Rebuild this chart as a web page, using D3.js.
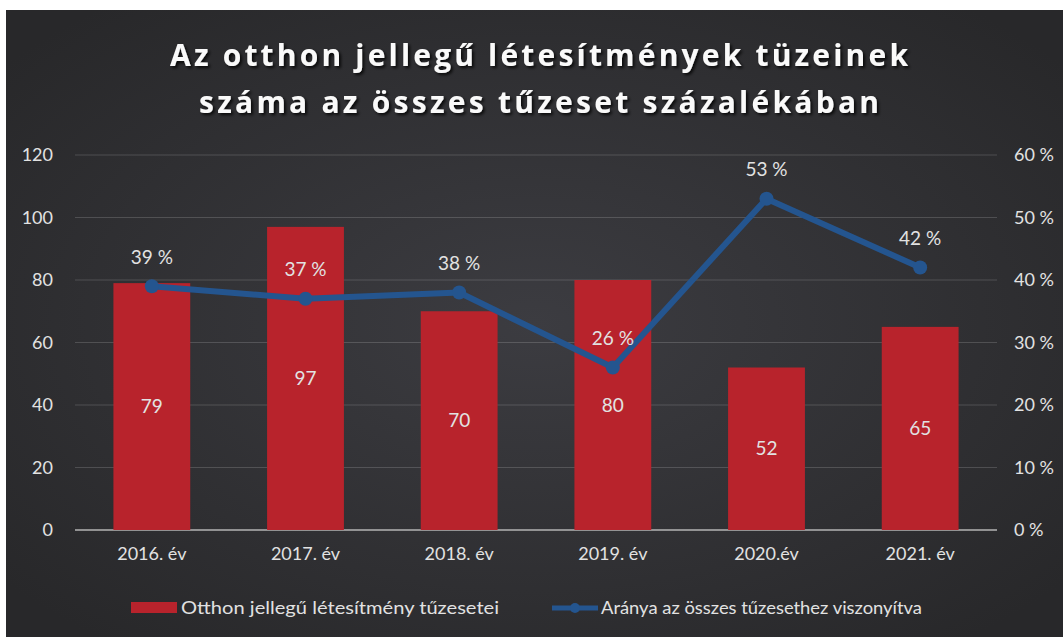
<!DOCTYPE html>
<html>
<head>
<meta charset="utf-8">
<script src="https://cdn.jsdelivr.net/npm/d3@7/dist/d3.min.js"></script>
<style>
  html, body { margin: 0; padding: 0; background: #fff; }
  svg { display: block; }
</style>
</head>
<body>
<div id="chart"></div>
<script>
// Otthon jellegű létesítmények tüzei – oszlop + arány vonal (két tengely)
const years = ["2016. év", "2017. év", "2018. év", "2019. év", "2020.év", "2021. év"];
const fires = [79, 97, 70, 80, 52, 65];
const share = [39, 37, 38, 26, 53, 42];
const leftTicks = [0, 20, 40, 60, 80, 100, 120];
const rightTicks = [0, 10, 20, 30, 40, 50, 60];
const titleLines = ["Az otthon jellegű létesítmények tüzeinek", "száma az összes tűzeset százalékában"];
const legendLabels = ["Otthon jellegű létesítmény tűzesetei", "Aránya az összes tűzesethez viszonyítva"];

(() => {
  const W = 1063, H = 637;
  const ML = 75, MR = 997, TOP = 155, BOT = 530;
  const FONT = "Lato, 'Open Sans', 'DejaVu Sans', sans-serif";
  const TFONT = "'Open Sans', 'DejaVu Sans', sans-serif";
  const RED = "#b8232c", BLUE = "#24558f", TXT = "#e2e2e2";

  const svg = d3.select("#chart").append("svg")
    .attr("width", W).attr("height", H).attr("viewBox", `0 0 ${W} ${H}`);

  const defs = svg.append("defs");
  const rg = defs.append("radialGradient").attr("id", "bg")
    .attr("cx", "50%").attr("cy", "50%").attr("r", "65%");
  rg.append("stop").attr("offset", "0%").attr("stop-color", "#3c3c41");
  rg.append("stop").attr("offset", "100%").attr("stop-color", "#28282a");
  const sh = defs.append("filter").attr("id", "shadow")
    .attr("x", "-5%").attr("y", "-20%").attr("width", "110%").attr("height", "140%");
  sh.append("feDropShadow").attr("dx", 2).attr("dy", 2).attr("stdDeviation", 1.5)
    .attr("flood-color", "#000").attr("flood-opacity", 0.8);

  // háttér (bal/felső fehér sáv a szkennelt képhez)
  svg.append("rect").attr("x", 6).attr("y", 10).attr("width", W - 6).attr("height", H - 10)
    .attr("fill", "url(#bg)");

  // cím
  const tW = [738, 680];
  titleLines.forEach((t, i) => {
    svg.append("text").attr("x", 539).attr("y", 66 + i * 47)
      .attr("text-anchor", "middle")
      .attr("textLength", tW[i]).attr("lengthAdjust", "spacing")
      .attr("filter", "url(#shadow)")
      .attr("style", `font:700 30px ${TFONT};fill:#fafafa`)
      .text(t);
  });

  const x = d3.scaleBand().domain(years).range([ML, MR]).paddingInner(0.5).paddingOuter(0.25);
  const y = d3.scaleLinear().domain([0, 120]).range([BOT, TOP]);
  const y2 = d3.scaleLinear().domain([0, 60]).range([BOT, TOP]);

  // rács
  leftTicks.forEach(v => {
    svg.append("line").attr("x1", ML).attr("x2", MR).attr("y1", y(v)).attr("y2", y(v))
      .attr("stroke", v === 0 ? "#b5b5b5" : "rgba(255,255,255,0.16)")
      .attr("stroke-width", v === 0 ? 1.5 : 1);
  });

  // tengelyek feliratai
  const yAxis = d3.axisLeft(y).tickValues(leftTicks).tickSize(0).tickPadding(0);
  const gl = svg.append("g").attr("transform", "translate(53,0)").call(yAxis);
  const yAxis2 = d3.axisRight(y2).tickValues(rightTicks).tickSize(0).tickPadding(0)
    .tickFormat(d => d + " %");
  const gr = svg.append("g").attr("transform", "translate(1014,0)").call(yAxis2);
  const xAxis = d3.axisBottom(x).tickSize(0).tickPadding(0);
  const gx = svg.append("g").attr("transform", "translate(0,547)").call(xAxis);
  [gl, gr, gx].forEach(g => {
    g.select(".domain").remove();
    g.selectAll("text").attr("style", `font:400 18px ${FONT};fill:${TXT}`);
  });
  gx.selectAll("text").attr("dy", "0.72em");

  // oszlopok
  svg.append("g").selectAll("rect").data(fires).join("rect")
    .attr("x", (d, i) => x(years[i])).attr("width", x.bandwidth())
    .attr("y", d => y(d)).attr("height", d => BOT - y(d))
    .attr("fill", RED);
  svg.append("g").selectAll("text").data(fires).join("text")
    .attr("x", (d, i) => x(years[i]) + x.bandwidth() / 2)
    .attr("y", d => (y(d) + BOT) / 2).attr("dy", "0.35em")
    .attr("text-anchor", "middle")
    .attr("style", `font:400 19px ${FONT};fill:${TXT}`)
    .text(d => d);

  // arány vonal
  const cx = i => x(years[i]) + x.bandwidth() / 2;
  const line = d3.line().x((d, i) => cx(i)).y(d => y2(d));
  svg.append("path").attr("d", line(share)).attr("fill", "none")
    .attr("stroke", BLUE).attr("stroke-width", 6).attr("stroke-linejoin", "round");
  svg.append("g").selectAll("circle").data(share).join("circle")
    .attr("cx", (d, i) => cx(i)).attr("cy", d => y2(d)).attr("r", 7)
    .attr("fill", BLUE);
  svg.append("g").selectAll("text").data(share).join("text")
    .attr("x", (d, i) => cx(i)).attr("y", d => y2(d) - 29).attr("dy", "0.35em")
    .attr("text-anchor", "middle")
    .attr("style", `font:400 19px ${FONT};fill:${TXT}`)
    .text(d => d + " %");

  // jelmagyarázat
  const lg = svg.append("g");
  lg.append("rect").attr("x", 131).attr("y", 602).attr("width", 46).attr("height", 11).attr("fill", RED);
  lg.append("text").attr("x", 181).attr("y", 608).attr("dy", "0.35em")
    .attr("textLength", 318).attr("lengthAdjust", "spacingAndGlyphs")
    .attr("style", `font:400 18px ${FONT};fill:${TXT}`).text(legendLabels[0]);
  lg.append("line").attr("x1", 552).attr("x2", 598).attr("y1", 608).attr("y2", 608)
    .attr("stroke", BLUE).attr("stroke-width", 5);
  lg.append("circle").attr("cx", 575).attr("cy", 608).attr("r", 5).attr("fill", BLUE);
  lg.append("text").attr("x", 601).attr("y", 608).attr("dy", "0.35em")
    .attr("textLength", 321).attr("lengthAdjust", "spacingAndGlyphs")
    .attr("style", `font:400 18px ${FONT};fill:${TXT}`).text(legendLabels[1]);
})();
</script>
</body>
</html>
